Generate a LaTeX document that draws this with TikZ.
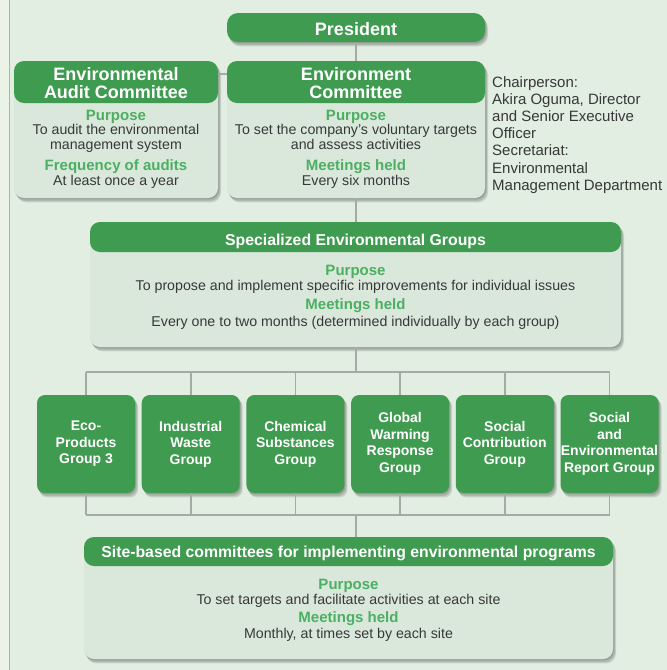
\documentclass[tikz,border=0pt]{standalone}
\usepackage{fontspec}
\setmainfont{Liberation Sans}
\definecolor{hdrgreen}{HTML}{3F9B4F}
\definecolor{lblgreen}{HTML}{4CAF62}
\definecolor{bodyfill}{HTML}{D9E8DB}
\definecolor{bgmain}{HTML}{E1EEE1}
\definecolor{bgstrip}{HTML}{EAF3E6}
\definecolor{linegray}{HTML}{A3ABA3}
\definecolor{txtgray}{HTML}{383838}
\pgfdeclarelayer{bglayer}
\pgfdeclarelayer{shadowlayer}
\pgfdeclarelayer{linelayer}
\pgfsetlayers{bglayer,shadowlayer,linelayer,main}
\newcommand\boxshadow[2]{%
  \begin{pgfonlayer}{shadowlayer}
  \foreach \dx/\dy in {0.8/1.2,1.8/2.8,2.8/4.2}{
    \fill[black, opacity=0.12, rounded corners=#2] ([shift={(\dx,\dy)}]#1.north west) rectangle ([shift={(\dx,\dy)}]#1.south east);}
  \end{pgfonlayer}}
\begin{document}
\begin{tikzpicture}[x=1pt,y=-1pt,
  bodybox/.style={fill=bodyfill, rounded corners=10pt, inner sep=0pt},
  hdrbox/.style={fill=hdrgreen, rounded corners=10pt, inner sep=0pt},
  pillbox/.style={fill=hdrgreen, rounded corners=11pt, inner sep=0pt},
  grpbox/.style={fill=hdrgreen, rounded corners=8pt, inner sep=0pt},
  hdrtxt/.style={text=white, font=\fontsize{18}{20}\selectfont\bfseries, inner sep=0pt, anchor=base},
  hdrsmall/.style={text=white, font=\fontsize{15.8}{18}\selectfont\bfseries, inner sep=0pt, anchor=base},
  lbl/.style={text=lblgreen, font=\fontsize{15}{17}\selectfont\bfseries, inner sep=0pt, anchor=base},
  bodytxt/.style={text=txtgray, font=\fontsize{14.2}{16}\selectfont, inner sep=0pt, anchor=base},
  grptxt/.style={text=white, font=\fontsize{14}{16.5}\selectfont\bfseries, inner sep=0pt, align=center},
  conn/.style={draw=linegray, line width=1.6pt}
]
\useasboundingbox (0,0) rectangle (667,670);
\begin{pgfonlayer}{bglayer}
  \fill[bgmain] (0,0) rectangle (667,670);
  \fill[bgstrip] (0,0) rectangle (9,670);
  \draw[draw=linegray!90, line width=1.4pt] (9.7,0) -- (9.7,670);
\end{pgfonlayer}

% President
\node[pillbox, minimum width=258, minimum height=29] (pres) at (356,27.5) {};
\boxshadow{pres}{11pt}
\node[hdrtxt] (prest) at (356,35) {President};

% Environmental Audit Committee
\node[bodybox, minimum width=204, minimum height=137] (audit) at (116,129.5) {};
\boxshadow{audit}{10pt}
\node[hdrbox, minimum width=204, minimum height=42] (audith) at (116,82) {};
\node[hdrtxt] (auh1) at (116,80) {Environmental};
\node[hdrtxt] (auh2) at (116,98) {Audit Committee};
\node[lbl] (au1) at (116,120) {Purpose};
\node[bodytxt] (au2) at (116,134.5) {To audit the environmental};
\node[bodytxt] (au3) at (116,149) {management system};
\node[lbl] (au4) at (116,170) {Frequency of audits};
\node[bodytxt] (au5) at (116,185) {At least once a year};

% Environment Committee
\node[bodybox, minimum width=258, minimum height=137] (env) at (356,129.5) {};
\boxshadow{env}{10pt}
\node[hdrbox, minimum width=258, minimum height=42] (envh) at (356,82) {};
\node[hdrtxt] (enh1) at (356,80) {Environment};
\node[hdrtxt] (enh2) at (356,98) {Committee};
\node[lbl] (en1) at (356,120) {Purpose};
\node[bodytxt] (en2) at (356,134.5) {To set the company’s voluntary targets};
\node[bodytxt] (en3) at (356,149) {and assess activities};
\node[lbl] (en4) at (356,170) {Meetings held};
\node[bodytxt] (en5) at (356,185) {Every six months};

% Chairperson
\node[text=txtgray, font=\fontsize{15}{17.2}\selectfont, inner sep=0pt, align=left, anchor=north west] (chair) at (492,76)
 {Chairperson:\\Akira Oguma, Director\\and Senior Executive\\Officer\\Secretariat:\\Environmental\\Management Department};

% Specialized Environmental Groups
\node[bodybox, minimum width=531, minimum height=125] (spec) at (355.5,284.5) {};
\boxshadow{spec}{10pt}
\node[hdrbox, minimum width=531, minimum height=30] (spech) at (355.5,237) {};
\node[hdrsmall] (sph) at (355.5,245) {Specialized Environmental Groups};
\node[lbl] (sp1) at (355.5,275) {Purpose};
\node[bodytxt] (sp2) at (355.5,290) {To propose and implement specific improvements for individual issues};
\node[lbl] (sp3) at (355.5,309) {Meetings held};
\node[bodytxt] (sp4) at (355.5,326) {Every one to two months (determined individually by each group)};

% Groups
\foreach \i/\t in {0/{Eco-\\Products\\Group 3},
                   1/{Industrial\\Waste\\Group},
                   2/{Chemical\\Substances\\Group},
                   3/{Global\\Warming\\Response\\Group},
                   4/{Social\\Contribution\\Group},
                   5/{Social\\and\\Environmental\\Report Group}}{
  \node[grpbox, minimum width=98, minimum height=98] (g\i) at ({86+104.7*\i},444) {};
  \boxshadow{g\i}{8pt}
  \node[grptxt] (gt\i) at (g\i) {\t};
}

% Site-based committees
\node[bodybox, minimum width=529, minimum height=122] (site) at (348.5,598) {};
\boxshadow{site}{10pt}
\node[hdrbox, minimum width=529, minimum height=29] (siteh) at (348.5,551.5) {};
\node[hdrsmall] (sih) at (348.5,557.5) {Site-based committees for implementing environmental programs};
\node[lbl] (si1) at (348.5,589) {Purpose};
\node[bodytxt] (si2) at (348.5,604) {To set targets and facilitate activities at each site};
\node[lbl] (si3) at (348.5,622) {Meetings held};
\node[bodytxt] (si4) at (348.5,638) {Monthly, at times set by each site};

% connectors
\coordinate (b1) at (356,372);
\coordinate (b2) at (356,515);
\begin{pgfonlayer}{linelayer}
  \draw[conn] (pres.south) -- (env.north);
  \draw[conn] (audit.east |- 0,74) -- (env.west |- 0,74);
  \draw[conn] (env.south) -- (env.south |- spec.north);
  \draw[conn] (env.south |- spec.south) -- (b1);
  \draw[conn] (g0.north |- b1) -- (g5.north |- b1);
  \draw[conn] (g0.south |- b2) -- (g5.south |- b2);
  \foreach \i in {0,...,5}{
    \draw[conn] (g\i.north) -- (g\i.north |- b1);
    \draw[conn] (g\i.south) -- (g\i.south |- b2);
  }
  \draw[conn] (b2) -- (b2 |- site.north);
\end{pgfonlayer}
\end{tikzpicture}
\end{document}
